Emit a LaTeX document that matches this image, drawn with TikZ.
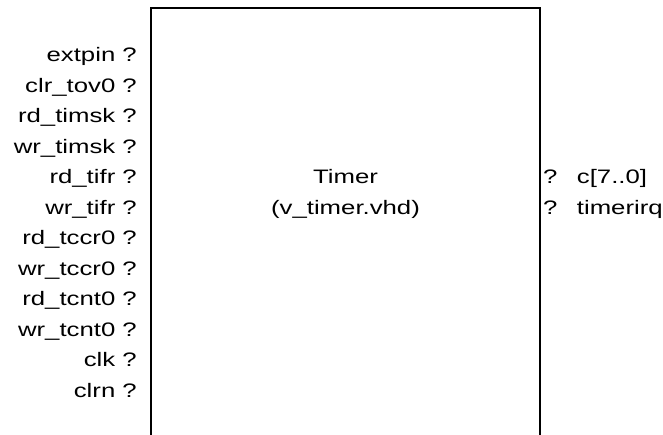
\documentclass[tikz,border=0pt]{standalone}
\usepackage{fontspec}
\setmainfont{Liberation Sans}[FakeStretch=1.32]
\usetikzlibrary{positioning}
\begin{document}
\begin{tikzpicture}[x=1pt,y=1pt]
    \tikzstyle{every node}=[inner sep=0pt,font=\fontsize{19.5}{24}\selectfont]
    \tikzstyle{inport}=[anchor=base east]
    \tikzstyle{outport}=[anchor=base west]
    \tikzstyle{block}=[draw,line width=2.7pt,minimum width=389pt,minimum height=457pt]

    \useasboundingbox (0,0) rectangle (663,435);
    \node[block] (timer) at (345.5,198.5) {};
    \node[anchor=base] (name) at (345.5,251) {Timer};
    \node[below=30.5pt of name.base, anchor=base] (file) {(v\_timer.vhd)};

    \node[inport] (extpin) at (137,373) {extpin ?};
    \node[below=30.5pt of extpin.base east, inport] (clrtov) {clr\_tov0 ?};
    \node[below=30.5pt of clrtov.base east, inport] (rdtimsk) {rd\_timsk ?};
    \node[below=30.5pt of rdtimsk.base east, inport] (wrtimsk) {wr\_timsk ?};
    \node[below=30.5pt of wrtimsk.base east, inport] (rdtifr) {rd\_tifr ?};
    \node[below=30.5pt of rdtifr.base east, inport] (wrtifr) {wr\_tifr ?};
    \node[below=30.5pt of wrtifr.base east, inport] (rdtccr) {rd\_tccr0 ?};
    \node[below=30.5pt of rdtccr.base east, inport] (wrtccr) {wr\_tccr0 ?};
    \node[below=30.5pt of wrtccr.base east, inport] (rdtcnt) {rd\_tcnt0 ?};
    \node[below=30.5pt of rdtcnt.base east, inport] (wrtcnt) {wr\_tcnt0 ?};
    \node[below=30.5pt of wrtcnt.base east, inport] (clk) {clk ?};
    \node[below=30.5pt of clk.base east, inport] (clrn) {clrn ?};

    \node[outport] (qc) at (543,251) {?};
    \node[below=30.5pt of qc.base west, outport] (qirq) {?};
    \node[right=19pt of qc.base east, outport] (cout) {c[7..0]};
    \node[right=19pt of qirq.base east, outport] (timerirq) {timerirq};
\end{tikzpicture}
\end{document}
